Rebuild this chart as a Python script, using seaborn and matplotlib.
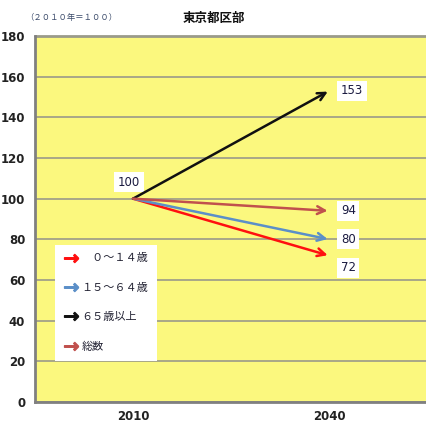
import matplotlib
matplotlib.use("Agg")
import matplotlib.pyplot as plt
from matplotlib.lines import Line2D
import seaborn as sns
import pandas as pd

# Index values (2010 = 100) for Tokyo's ward area
years = ["2010", "2040"]
series_names = ["　０～１４歳", "１５～６４歳", "６５歳以上", "総数"]
start_values = [100, 100, 100, 100]
end_values = [72, 80, 153, 94]
series_colors = ["#FF1010", "#5B8FC8", "#111111", "#C0504D"]
y_ticks = [0, 20, 40, 60, 80, 100, 120, 140, 160, 180]

sns.set_theme(style="white")
plt.rcParams["font.family"] = ["Noto Sans CJK JP", "DejaVu Sans"]

rows = []
for name, s, e in zip(series_names, start_values, end_values):
    rows.append({"year": years[0], "value": s, "series": name})
    rows.append({"year": years[1], "value": e, "series": name})
df = pd.DataFrame(rows)

fig = plt.figure(figsize=(4.27, 4.29), dpi=100)
ax = fig.add_axes([0.082, 0.063, 0.918, 0.853])
ax.set_facecolor("#FBF87E")

palette = dict(zip(series_names, series_colors))
sns.lineplot(data=df, x="year", y="value", hue="series", palette=palette,
             hue_order=series_names, linewidth=0, legend=False, ax=ax)

# arrows from 2010 to 2040 for each series
for name, s, e in zip(series_names, start_values, end_values):
    ax.annotate("", xy=(1, e), xytext=(0, s),
                arrowprops=dict(arrowstyle="->", color=palette[name], lw=1.8,
                                mutation_scale=14, shrinkA=0, shrinkB=1),
                zorder=4)

narrow = ["Liberation Sans Narrow", "DejaVu Sans"]
lab_font = dict(family=narrow, fontsize=8.5, color="#1A1A40")
box = dict(boxstyle="square,pad=0.3", fc="white", ec="none")
ax.text(-0.02, 108, f"{start_values[0]}", ha="center", va="center", bbox=box, **lab_font)
end_offsets = [-6, 0, 0, 0]
for e, off in zip(end_values, end_offsets):
    ax.text(1.06, e + off, f"{e}", ha="left", va="center", bbox=box, **lab_font)

ax.set_ylim(0, 180)
ax.set_xlim(-0.5, 1.5)
ax.set_yticks(y_ticks)
ax.set_yticklabels([str(t) for t in y_ticks], family=narrow,
                   fontsize=8.5, fontweight="bold", color="#222222")
ax.set_xticks([0, 1])
ax.set_xticklabels(years, family=narrow,
                   fontsize=8.5, fontweight="bold", color="#222222")
ax.set_xticks([0.5], minor=True)
ax.tick_params(axis="x", which="major", length=0, pad=6)
ax.tick_params(axis="x", which="minor", length=4, width=1, color="#888888", direction="out")
ax.tick_params(axis="y", length=3, width=1, color="#888888", pad=4)
ax.yaxis.grid(True, color="#9A9A8A", linewidth=1.2)
ax.set_axisbelow(True)
ax.set_xlabel("")
ax.set_ylabel("")

for side in ["top", "right"]:
    ax.spines[side].set_visible(False)
for side in ["left", "bottom"]:
    ax.spines[side].set_color("#808080")
    ax.spines[side].set_linewidth(2)
ax.plot([-0.5, 1.5], [180, 180], color="#9A9A8A", lw=2, clip_on=False, zorder=1)

handles = [Line2D([], [], color=c, marker=r"$\rightarrow$", markersize=10,
                  linestyle="none") for c in series_colors]
leg = ax.legend(handles, series_names, loc="lower left",
                bbox_to_anchor=(0.05, 0.112), frameon=True, fancybox=False,
                framealpha=1, fontsize=8, labelspacing=1.75, handletextpad=0.2,
                borderpad=0.8, handlelength=1.4, borderaxespad=0)
leg.get_frame().set_facecolor("white")
leg.get_frame().set_edgecolor("none")
for t in leg.get_texts():
    t.set_color("#222233")

fig.text(0.5, 0.958, "東京都区部", ha="center", va="center", fontsize=9,
         fontweight="bold", color="#111111")
fig.text(0.06, 0.96, "（２０１０年＝１００）", ha="left", va="center", fontsize=6,
         color="#3A4A6A")

fig.savefig("out.png", dpi=100, facecolor="white")
